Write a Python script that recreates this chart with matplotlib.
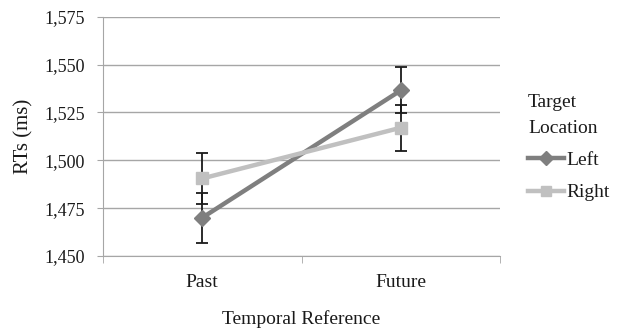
import matplotlib
matplotlib.use("Agg")
import matplotlib.pyplot as plt
from matplotlib.ticker import FuncFormatter

categories = ["Past", "Future"]
left_vals = [1470, 1536.5]
left_err = [13, 12]
right_vals = [1490.5, 1517]
right_err = [13.5, 12]
yticks = [1450, 1475, 1500, 1525, 1550, 1575]

plt.rcParams['font.family'] = ['Liberation Serif', 'DejaVu Serif']
plt.rcParams['text.color'] = '#1a1a1a'
plt.rcParams['xtick.labelcolor'] = '#1a1a1a'
plt.rcParams['ytick.labelcolor'] = '#1a1a1a'
plt.rcParams['axes.labelcolor'] = '#1a1a1a'

W, H = 622, 330
fig = plt.figure(figsize=(W/100, H/100), dpi=100)
ax = fig.add_axes([103/W, 1-256/H, 397/W, (256-16.7)/H])

x = list(range(len(categories)))
grid_c = '#a6a6a6'
for t in yticks:
    ax.axhline(t, color=grid_c, lw=1, zorder=0)

ax.errorbar(x, left_vals, yerr=left_err, fmt='none', ecolor='#1a1a1a', elinewidth=1.3, capsize=4, capthick=1.3, zorder=2)
ax.errorbar(x, right_vals, yerr=right_err, fmt='none', ecolor='#1a1a1a', elinewidth=1.3, capsize=4, capthick=1.3, zorder=2)

ax.plot(x, left_vals, color='#7f7f7f', lw=3.2, marker='D', ms=8, mec='#7f7f7f', label='Left', zorder=3)
ax.plot(x, right_vals, color='#c0c0c0', lw=3.2, marker='s', ms=9, mec='#c0c0c0', label='Right', zorder=3)

ax.set_xlim(-0.5, 1.5)
ax.set_ylim(1450, 1575)
ax.set_yticks(yticks)
ax.yaxis.set_major_formatter(FuncFormatter(lambda v, p: f"{int(v):,}"))
ax.set_xticks(x)
ax.set_xticklabels(categories)
ax.tick_params(axis='x', length=0, labelsize=14, pad=13)
ax.tick_params(axis='y', length=4.5, color=grid_c, labelsize=13, pad=8.5)
ax.set_xticks([-0.5, 0.5, 1.5], minor=True)
ax.tick_params(axis='x', which='minor', length=5, color=grid_c)

for s in ['top', 'right']:
    ax.spines[s].set_visible(False)
ax.spines['left'].set_color(grid_c)
ax.spines['bottom'].set_color(grid_c)

ax.set_ylabel('RTs (ms)', fontsize=15, labelpad=8)
ax.set_xlabel('Temporal Reference', fontsize=14, labelpad=14)

leg = fig.legend(title='Target\nLocation', loc='upper left', bbox_to_anchor=(528/W, 1-94/H),
                 frameon=False, fontsize=14, title_fontsize=14, handlelength=1.85,
                 handletextpad=0.15, labelspacing=0.75, borderaxespad=0, borderpad=0)
leg._legend_box.align = 'left'
leg.get_title().set_linespacing(1.7)
for h in leg.legend_handles:
    h.set_markersize(7)

fig.savefig('out.png', dpi=100)
